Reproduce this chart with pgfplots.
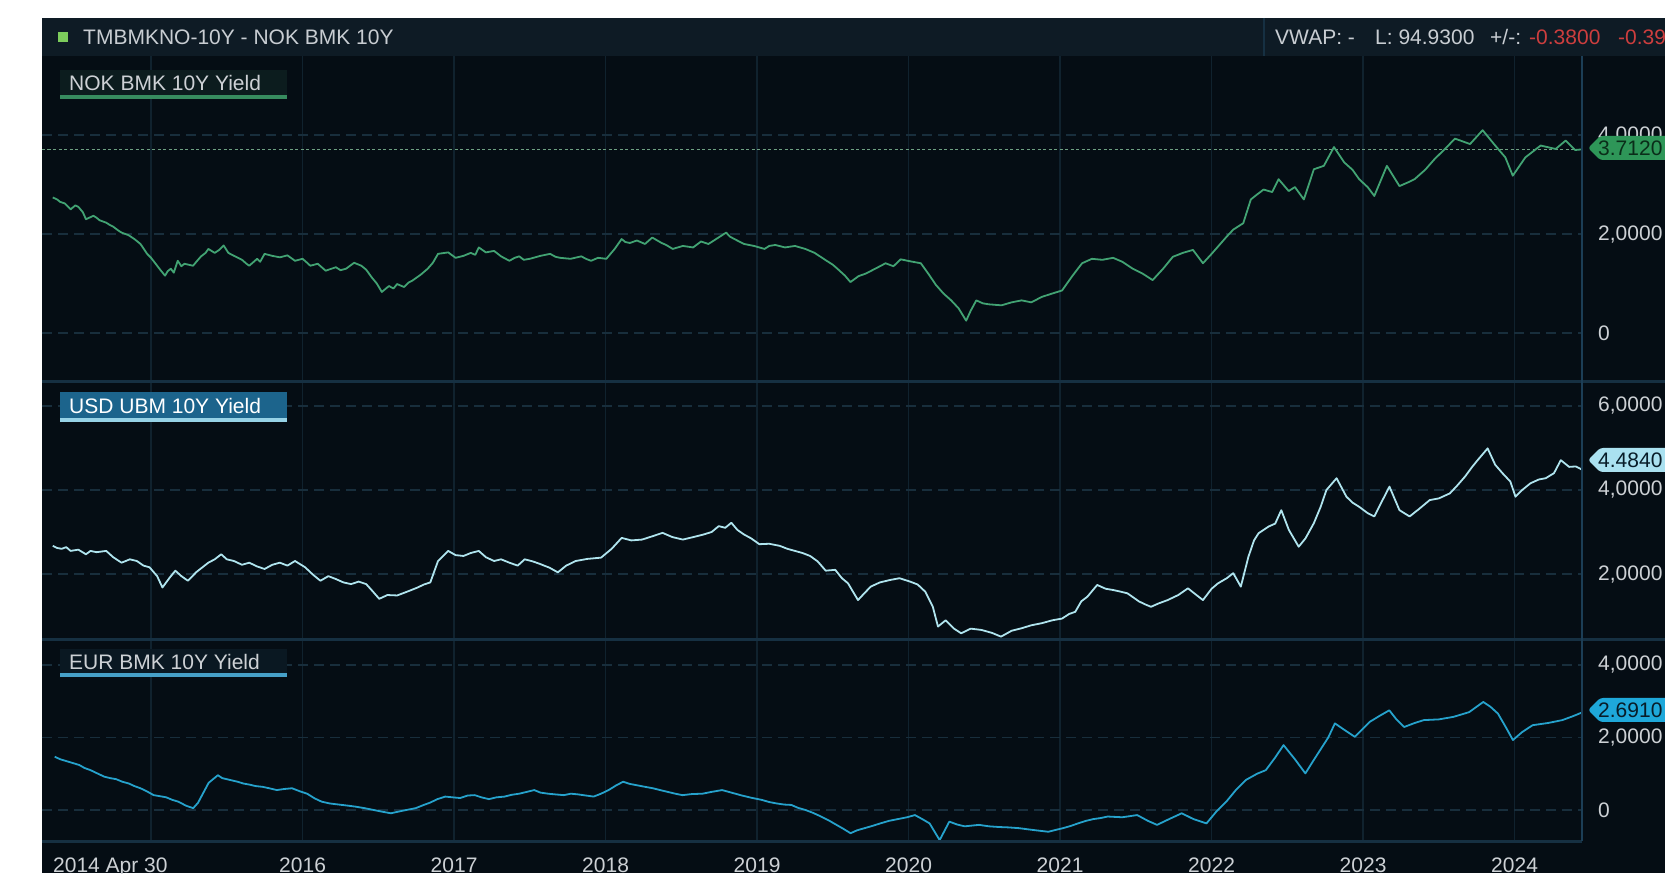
\documentclass[border=0pt]{standalone}
\usepackage{pgfplots}
\pgfplotsset{compat=1.18}
\usepackage{fontspec}
\setmainfont{Liberation Sans}
\definecolor{bgc}{RGB}{5,13,20}
\definecolor{hdrc}{RGB}{14,27,37}
\definecolor{sepc}{RGB}{22,48,66}
\definecolor{bordc}{RGB}{28,62,86}
\definecolor{vgridc}{RGB}{16,34,46}
\definecolor{hgridc}{RGB}{24,46,60}
\definecolor{nokc}{RGB}{66,163,115}
\definecolor{usdc}{RGB}{175,228,238}
\definecolor{eurc}{RGB}{38,162,204}
\definecolor{tickc}{RGB}{205,209,213}
\definecolor{hdrtext}{RGB}{200,205,210}
\definecolor{redc}{RGB}{205,62,62}
\definecolor{lastc}{RGB}{110,160,130}
\definecolor{sqc}{RGB}{124,204,92}
\definecolor{noklab}{RGB}{12,28,30}
\definecolor{usdlab}{RGB}{28,100,140}
\definecolor{eurlab}{RGB}{10,24,34}
\definecolor{usdline}{RGB}{150,210,230}
\definecolor{eurline}{RGB}{70,160,200}
\definecolor{nokline}{RGB}{55,140,95}
\definecolor{nokpill}{RGB}{46,150,88}
\definecolor{usdpill}{RGB}{170,225,240}
\definecolor{eurpill}{RGB}{30,168,218}
\definecolor{pilltext}{RGB}{8,28,40}
\definecolor{nokpilltext}{RGB}{10,45,25}
\newcommand{\tf}{\fontsize{21}{24}\selectfont}
\pgfplotsset{panel/.style={
  scale only axis, width=1540pt, anchor=south west,
  xmin=2014.28, xmax=2024.445,
  axis line style={draw=none},
  tick style={draw=none},
  major tick length=0pt,
  xtick={2015,2016,2017,2018,2019,2020,2021,2022,2023,2024},
  xmajorgrids, ymajorgrids,
  x grid style={line width=1.3pt, color=vgridc},
  y grid style={line width=1.4pt, color=hgridc, dash pattern=on 10pt off 6pt},
  yticklabel pos=right,
  yticklabel style={anchor=west, inner sep=0pt, xshift=16pt, font=\tf, text=tickc},
  xticklabel style={anchor=north, inner sep=0pt, yshift=-17pt, font=\tf, text=tickc},
}}
\begin{document}
\begin{tikzpicture}[x=1pt,y=1pt]
\useasboundingbox (0,0) rectangle (1665,873);
\fill[white] (0,0) rectangle (1665,873);
\fill[bgc] (42,0) rectangle (1665,855);
\fill[hdrc] (42,817) rectangle (1665,855);
\draw[sepc, line width=2pt] (1264,817) -- (1264,855);
\fill[sqc] (58,831) rectangle (68,841);
\node[anchor=west, inner sep=0pt, font=\tf, text=hdrtext] at (83,836) {TMBMKNO-10Y - NOK BMK 10Y};
\node[anchor=west, inner sep=0pt, font=\tf, text=hdrtext] at (1275,836) {VWAP: -};
\node[anchor=west, inner sep=0pt, font=\tf, text=hdrtext] at (1375,836) {L: 94.9300};
\node[anchor=west, inner sep=0pt, font=\tf, text=hdrtext] at (1490,836) {+/-:};
\node[anchor=west, inner sep=0pt, font=\tf, text=redc] at (1529,836) {-0.3800};
\node[anchor=west, inner sep=0pt, font=\tf, text=redc] at (1618,836) {-0.3986\%};

% ---------------- Panel 1: NOK ----------------
\begin{axis}[panel, at={(42pt,491pt)}, height=326pt, ymin=-0.99, ymax=5.60,
  ytick={0,2,4}, yticklabels={0,{2,0000},{4,0000}}, xticklabels={,,,,,,,,,}]
\addplot[lastc, line width=1.2pt, dash pattern=on 3pt off 2.5pt, mark=none] coordinates {(2014.28,3.712) (2024.445,3.712)};
\addplot[nokc, line width=1.8pt, mark=none, line join=round] coordinates {
(2014.351,2.74) (2014.38,2.70) (2014.40,2.65) (2014.43,2.62) (2014.469,2.50) (2014.50,2.58) (2014.52,2.55) (2014.55,2.44) (2014.570,2.30)
(2014.620,2.37) (2014.64,2.33) (2014.66,2.28) (2014.704,2.23) (2014.73,2.18) (2014.75,2.15) (2014.78,2.08) (2014.805,2.03)
(2014.85,1.98) (2014.890,1.90) (2014.93,1.80) (2014.974,1.60) (2015.00,1.52) (2015.03,1.40) (2015.06,1.28)
(2015.092,1.16) (2015.11,1.25) (2015.13,1.30) (2015.15,1.22) (2015.176,1.46) (2015.20,1.35) (2015.22,1.40) (2015.277,1.36)
(2015.31,1.48) (2015.33,1.55) (2015.36,1.62) (2015.378,1.70) (2015.42,1.62) (2015.45,1.68) (2015.479,1.77) (2015.51,1.62) (2015.547,1.56)
(2015.60,1.48) (2015.63,1.40) (2015.648,1.36) (2015.70,1.50) (2015.72,1.44) (2015.749,1.60) (2015.80,1.56)
(2015.850,1.53) (2015.90,1.57) (2015.950,1.46) (2016.00,1.50) (2016.03,1.42) (2016.051,1.36)
(2016.10,1.40) (2016.13,1.32) (2016.152,1.26) (2016.22,1.33) (2016.25,1.27) (2016.287,1.30) (2016.34,1.42)
(2016.388,1.36) (2016.42,1.28) (2016.455,1.13) (2016.49,1.00) (2016.523,0.83) (2016.57,0.95) (2016.60,0.90) (2016.624,0.99)
(2016.67,0.93) (2016.70,1.02) (2016.725,1.06) (2016.78,1.18) (2016.826,1.30) (2016.86,1.42) (2016.894,1.60)
(2016.961,1.63) (2017.01,1.52) (2017.062,1.56) (2017.11,1.62) (2017.14,1.58) (2017.163,1.73)
(2017.21,1.63) (2017.264,1.66) (2017.31,1.55) (2017.365,1.46) (2017.40,1.52) (2017.43,1.55) (2017.46,1.48)
(2017.500,1.50) (2017.57,1.56) (2017.634,1.60) (2017.67,1.54) (2017.70,1.52) (2017.769,1.50)
(2017.84,1.55) (2017.87,1.50) (2017.904,1.46) (2017.95,1.52) (2018.005,1.50) (2018.06,1.70)
(2018.106,1.90) (2018.13,1.84) (2018.16,1.82) (2018.207,1.87) (2018.26,1.80) (2018.308,1.93)
(2018.37,1.82) (2018.40,1.78) (2018.443,1.70) (2018.51,1.76) (2018.578,1.73) (2018.63,1.85)
(2018.679,1.80) (2018.74,1.92) (2018.796,2.03) (2018.82,1.95) (2018.85,1.90) (2018.914,1.80)
(2018.98,1.76) (2019.049,1.70) (2019.08,1.76) (2019.12,1.78) (2019.184,1.73) (2019.25,1.76)
(2019.318,1.70) (2019.38,1.62) (2019.449,1.48) (2019.50,1.38) (2019.53,1.30) (2019.58,1.16) (2019.616,1.03)
(2019.67,1.15) (2019.716,1.20) (2019.78,1.30) (2019.848,1.41) (2019.90,1.35)
(2019.948,1.49) (2020.01,1.45) (2020.081,1.41) (2020.13,1.20) (2020.181,0.97)
(2020.23,0.80) (2020.281,0.66) (2020.33,0.50) (2020.380,0.25) (2020.41,0.45)
(2020.447,0.66) (2020.49,0.60) (2020.53,0.58) (2020.613,0.56) (2020.68,0.62) (2020.746,0.66)
(2020.81,0.62) (2020.879,0.73) (2020.95,0.80) (2021.013,0.86) (2021.08,1.15)
(2021.145,1.41) (2021.21,1.50) (2021.279,1.48) (2021.35,1.52) (2021.411,1.44)
(2021.48,1.30) (2021.545,1.20) (2021.611,1.07) (2021.68,1.30) (2021.744,1.54)
(2021.81,1.62) (2021.877,1.68) (2021.943,1.41) (2022.00,1.60) (2022.043,1.75)
(2022.10,1.95) (2022.143,2.09) (2022.209,2.22) (2022.259,2.70) (2022.30,2.80)
(2022.343,2.90) (2022.40,2.85) (2022.442,3.11) (2022.509,2.87) (2022.55,2.95)
(2022.609,2.70) (2022.675,3.31) (2022.741,3.38) (2022.808,3.76) (2022.875,3.45)
(2022.93,3.30) (2022.974,3.11) (2023.03,2.95) (2023.074,2.77) (2023.157,3.38)
(2023.240,2.97) (2023.30,3.05) (2023.340,3.11) (2023.41,3.30) (2023.473,3.52)
(2023.55,3.75) (2023.606,3.93) (2023.706,3.82) (2023.789,4.10) (2023.872,3.79)
(2023.939,3.55) (2023.988,3.18) (2024.071,3.55) (2024.172,3.79) (2024.271,3.72)
(2024.337,3.89) (2024.40,3.70) (2024.445,3.712)
};
\end{axis}

% ---------------- Panel 2: USD ----------------
\begin{axis}[panel, at={(42pt,233pt)}, height=258pt, ymin=0.43, ymax=6.57,
  ytick={2,4,6}, yticklabels={{2,0000},{4,0000},{6,0000}}, xticklabels={,,,,,,,,,}]
\addplot[usdc, line width=1.8pt, mark=none, line join=round] coordinates {
(2014.351,2.67) (2014.38,2.62) (2014.41,2.60) (2014.44,2.64) (2014.469,2.55) (2014.52,2.58) (2014.570,2.47)
(2014.60,2.55) (2014.64,2.52) (2014.704,2.55) (2014.75,2.40) (2014.805,2.27) (2014.86,2.35)
(2014.906,2.31) (2014.95,2.20) (2014.99,2.16) (2015.04,1.95) (2015.075,1.68)
(2015.12,1.90) (2015.16,2.08) (2015.20,1.95) (2015.243,1.84) (2015.30,2.05)
(2015.378,2.27) (2015.42,2.35) (2015.463,2.47) (2015.50,2.35) (2015.547,2.31)
(2015.60,2.22) (2015.648,2.27) (2015.70,2.18) (2015.749,2.12) (2015.80,2.22)
(2015.850,2.27) (2015.90,2.20) (2015.95,2.31) (2016.017,2.16) (2016.07,1.98)
(2016.118,1.84) (2016.17,1.95) (2016.22,1.88) (2016.27,1.80) (2016.32,1.76)
(2016.37,1.82) (2016.42,1.76) (2016.46,1.60) (2016.506,1.41) (2016.56,1.50)
(2016.624,1.49) (2016.69,1.58) (2016.76,1.68) (2016.80,1.75) (2016.843,1.80)
(2016.894,2.31) (2016.961,2.55) (2017.01,2.45) (2017.062,2.43) (2017.11,2.50)
(2017.163,2.55) (2017.21,2.40) (2017.264,2.31) (2017.31,2.35) (2017.365,2.27)
(2017.42,2.20) (2017.466,2.35) (2017.52,2.30) (2017.567,2.24) (2017.63,2.15)
(2017.685,2.04) (2017.74,2.20) (2017.803,2.31) (2017.88,2.36) (2017.97,2.39)
(2018.04,2.60) (2018.106,2.86) (2018.17,2.80) (2018.241,2.82) (2018.31,2.90)
(2018.376,2.98) (2018.44,2.88) (2018.51,2.82) (2018.58,2.88) (2018.646,2.94)
(2018.70,3.00) (2018.747,3.14) (2018.79,3.10) (2018.83,3.22) (2018.87,3.05)
(2018.914,2.94) (2018.96,2.85) (2019.015,2.71) (2019.08,2.72) (2019.15,2.67)
(2019.20,2.60) (2019.25,2.55) (2019.30,2.50) (2019.35,2.43) (2019.40,2.30)
(2019.453,2.08) (2019.516,2.10) (2019.56,1.90) (2019.60,1.78) (2019.666,1.38)
(2019.71,1.55) (2019.75,1.70) (2019.81,1.80) (2019.88,1.86) (2019.94,1.90)
(2020.01,1.82) (2020.06,1.75) (2020.11,1.58) (2020.16,1.22) (2020.194,0.75)
(2020.245,0.90) (2020.30,0.70) (2020.347,0.59) (2020.41,0.70) (2020.48,0.67)
(2020.55,0.60) (2020.61,0.51) (2020.68,0.65) (2020.746,0.71) (2020.81,0.78)
(2020.879,0.83) (2020.95,0.90) (2021.013,0.94) (2021.06,1.05) (2021.10,1.10)
(2021.14,1.35) (2021.18,1.46) (2021.245,1.74) (2021.30,1.65) (2021.35,1.62)
(2021.40,1.58) (2021.445,1.54) (2021.52,1.35) (2021.56,1.28) (2021.60,1.22)
(2021.65,1.30) (2021.71,1.38) (2021.78,1.50) (2021.844,1.66) (2021.90,1.50)
(2021.943,1.38) (2022.00,1.65) (2022.043,1.78) (2022.10,1.90) (2022.143,2.02)
(2022.193,1.70) (2022.243,2.41) (2022.28,2.80) (2022.31,2.97) (2022.376,3.13)
(2022.42,3.20) (2022.46,3.52) (2022.51,3.05) (2022.575,2.65) (2022.62,2.85)
(2022.675,3.21) (2022.72,3.60) (2022.758,4.00) (2022.825,4.28) (2022.89,3.84)
(2022.93,3.70) (2022.974,3.60) (2023.03,3.45) (2023.074,3.37) (2023.12,3.70)
(2023.174,4.08) (2023.24,3.52) (2023.307,3.37) (2023.37,3.55) (2023.44,3.76)
(2023.50,3.80) (2023.573,3.92) (2023.62,4.10) (2023.673,4.32) (2023.72,4.55)
(2023.756,4.71) (2023.822,4.99) (2023.872,4.60) (2023.92,4.40) (2023.972,4.20)
(2024.006,3.84) (2024.05,4.00) (2024.105,4.16) (2024.16,4.25) (2024.205,4.28)
(2024.26,4.40) (2024.305,4.71) (2024.36,4.55) (2024.404,4.56) (2024.445,4.484)
};
\end{axis}

% ---------------- Panel 3: EUR ----------------
\begin{axis}[panel, at={(42pt,32pt)}, height=201pt, ymin=-0.855, ymax=4.69,
  ytick={0,2,4}, yticklabels={0,{2,0000},{4,0000}},
  xticklabels={{},2016,2017,2018,2019,2020,2021,2022,2023,2024}]
\addplot[eurc, line width=1.8pt, mark=none, line join=round] coordinates {
(2014.364,1.47) (2014.40,1.40) (2014.44,1.35) (2014.48,1.30) (2014.527,1.24) (2014.56,1.16) (2014.60,1.10) (2014.64,1.02) (2014.691,0.92)
(2014.73,0.88) (2014.77,0.85) (2014.81,0.78) (2014.854,0.73) (2014.89,0.66) (2014.93,0.60) (2014.97,0.52) (2015.017,0.41) (2015.06,0.38) (2015.10,0.35)
(2015.14,0.28) (2015.18,0.23) (2015.23,0.12) (2015.278,0.05) (2015.31,0.20) (2015.343,0.46) (2015.38,0.75)
(2015.441,0.96) (2015.47,0.88) (2015.50,0.85) (2015.571,0.78) (2015.61,0.73) (2015.65,0.70) (2015.69,0.66) (2015.735,0.64)
(2015.78,0.60) (2015.83,0.55) (2015.88,0.58) (2015.93,0.60) (2015.98,0.52) (2016.03,0.45) (2016.08,0.32) (2016.126,0.23) (2016.18,0.18) (2016.24,0.15)
(2016.30,0.12) (2016.354,0.09) (2016.41,0.05) (2016.47,0.00) (2016.53,-0.05) (2016.583,-0.09) (2016.66,-0.02) (2016.746,0.05)
(2016.80,0.14) (2016.84,0.20) (2016.89,0.30) (2016.942,0.37) (2016.99,0.35) (2017.04,0.33) (2017.09,0.40) (2017.137,0.41) (2017.18,0.35) (2017.23,0.30)
(2017.28,0.35) (2017.333,0.37) (2017.38,0.42) (2017.43,0.45) (2017.48,0.50) (2017.529,0.55) (2017.57,0.48) (2017.62,0.45) (2017.67,0.43) (2017.725,0.41)
(2017.77,0.45) (2017.82,0.43) (2017.87,0.40) (2017.921,0.37) (2017.97,0.45) (2018.02,0.55) (2018.07,0.68) (2018.116,0.78) (2018.16,0.72) (2018.21,0.68)
(2018.26,0.64) (2018.312,0.60) (2018.36,0.55) (2018.41,0.50) (2018.46,0.45) (2018.508,0.41) (2018.57,0.44) (2018.64,0.45) (2018.70,0.50) (2018.769,0.55)
(2018.83,0.48) (2018.90,0.40) (2018.96,0.34) (2019.03,0.28) (2019.08,0.22) (2019.13,0.18) (2019.18,0.15) (2019.226,0.14) (2019.27,0.06) (2019.32,0.00)
(2019.37,-0.08) (2019.422,-0.18) (2019.47,-0.28) (2019.52,-0.40) (2019.57,-0.52) (2019.617,-0.64) (2019.66,-0.56) (2019.71,-0.50) (2019.76,-0.44) (2019.813,-0.37)
(2019.87,-0.30) (2019.93,-0.25) (2019.99,-0.20) (2020.042,-0.14) (2020.09,-0.25) (2020.139,-0.37) (2020.205,-0.83) (2020.269,-0.32)
(2020.32,-0.40) (2020.37,-0.45) (2020.465,-0.41) (2020.53,-0.45) (2020.60,-0.47) (2020.66,-0.48) (2020.727,-0.50) (2020.82,-0.55)
(2020.922,-0.60) (2020.97,-0.55) (2021.02,-0.50) (2021.07,-0.44) (2021.118,-0.37) (2021.17,-0.30) (2021.22,-0.25) (2021.27,-0.22) (2021.314,-0.18)
(2021.41,-0.20) (2021.509,-0.14) (2021.58,-0.30) (2021.64,-0.41) (2021.72,-0.25)
(2021.803,-0.09) (2021.88,-0.25) (2021.966,-0.37) (2022.03,-0.05) (2022.097,0.23)
(2022.16,0.55) (2022.227,0.83) (2022.30,1.00) (2022.358,1.10) (2022.42,1.45)
(2022.475,1.79) (2022.55,1.40) (2022.619,1.01) (2022.67,1.35) (2022.716,1.65)
(2022.77,2.00) (2022.814,2.39) (2022.88,2.20) (2022.945,2.02) (2023.00,2.25)
(2023.043,2.43) (2023.11,2.60) (2023.173,2.75) (2023.22,2.50) (2023.271,2.29)
(2023.34,2.40) (2023.401,2.48) (2023.50,2.50) (2023.597,2.57) (2023.70,2.70)
(2023.793,2.98) (2023.84,2.85) (2023.89,2.66) (2023.94,2.30) (2023.989,1.93)
(2024.05,2.15) (2024.119,2.34) (2024.22,2.40) (2024.315,2.48) (2024.38,2.58)
(2024.445,2.69)
};
\end{axis}

% separators and borders
\draw[sepc, line width=3pt] (42,491) -- (1665,491);
\draw[sepc, line width=3pt] (42,233) -- (1665,233);
\draw[sepc, line width=3pt] (42,32) -- (1582,32);
\draw[bordc, line width=2pt] (1582,32) -- (1582,817);

% "2014 Apr 30" start label
\node[anchor=north west, inner sep=0pt, font=\tf, text=tickc] at (53,15) {2014 Apr 30};

% panel labels
\fill[noklab] (60,774) rectangle (287,803);
\fill[nokline] (60,774) rectangle (287,777.5);
\node[anchor=west, inner sep=0pt, font=\tf, text=tickc] at (69,790) {NOK BMK 10Y Yield};
\fill[usdlab] (60,451) rectangle (287,481);
\fill[usdline] (60,451) rectangle (287,454.5);
\node[anchor=west, inner sep=0pt, font=\tf, text=white] at (69,467) {USD UBM 10Y Yield};
\fill[eurlab] (60,196) rectangle (287,224);
\fill[eurline] (60,196) rectangle (287,199.5);
\node[anchor=west, inner sep=0pt, font=\tf, text=tickc] at (69,211) {EUR BMK 10Y Yield};

% last-value tags
\fill[nokpill, rounded corners=3pt] (1588,725) -- (1600,737) -- (1680,737) -- (1680,713) -- (1600,713) -- cycle;
\node[anchor=west, inner sep=0pt, font=\tf, text=nokpilltext] at (1598,725) {3.7120};
\fill[usdpill, rounded corners=3pt] (1588,413) -- (1600,425) -- (1680,425) -- (1680,401) -- (1600,401) -- cycle;
\node[anchor=west, inner sep=0pt, font=\tf, text=pilltext] at (1598,413) {4.4840};
\fill[eurpill, rounded corners=3pt] (1588,163) -- (1600,175) -- (1680,175) -- (1680,151) -- (1600,151) -- cycle;
\node[anchor=west, inner sep=0pt, font=\tf, text=pilltext] at (1598,163) {2.6910};
\end{tikzpicture}
\end{document}
